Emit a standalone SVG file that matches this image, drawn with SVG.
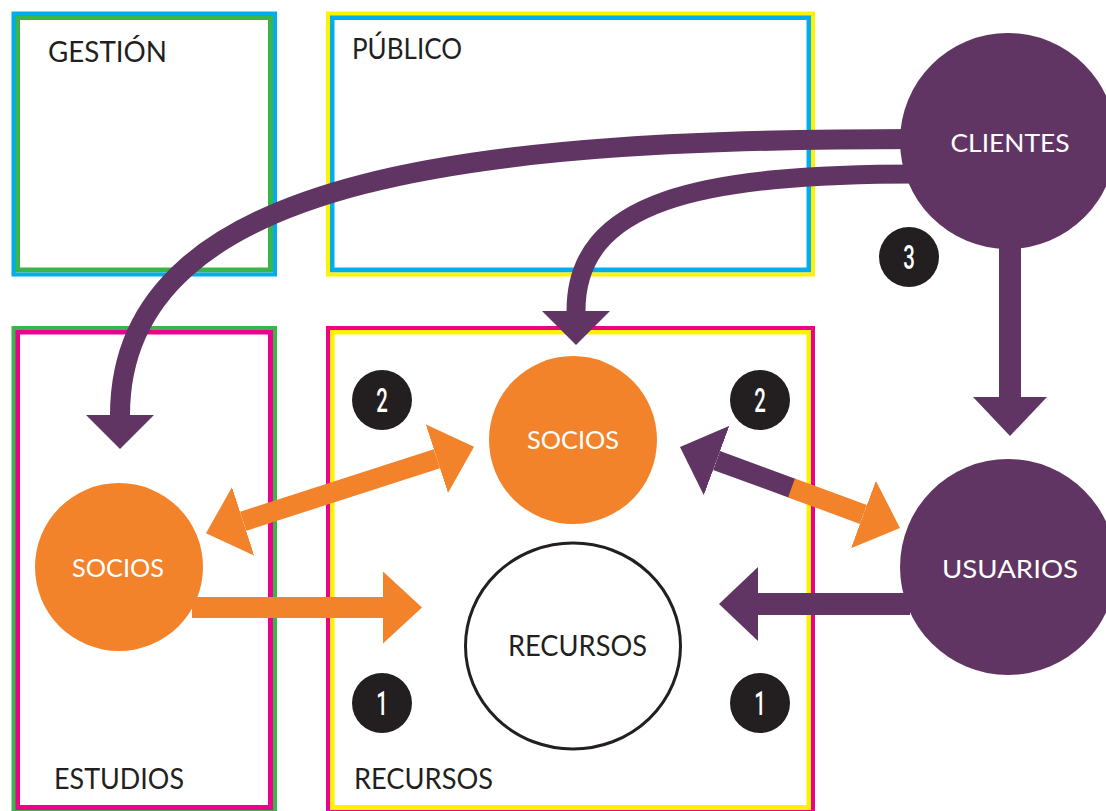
<svg xmlns="http://www.w3.org/2000/svg" width="1106" height="811" viewBox="0 0 1106 811">
  <style>
    .lbl { font-family: Lato, "Noto Sans", sans-serif; font-size: 28px; fill: #231F20; }
    .nlbl { font-family: Lato, "Noto Sans", sans-serif; font-size: 25px; fill: #FFFFFF; text-anchor: middle; }
    .badge circle { fill: #231F20; }
    .badge text { font-family: Roboto, "Liberation Sans", sans-serif; font-weight: 500; font-size: 34px; fill: #FFFFFF; text-anchor: middle; }
    .shaft { fill: none; stroke-linecap: butt; }
    .purple { stroke: #613563; }
    .orange { stroke: #F3832B; }
  </style>
  <defs>
    <marker id="head-purple" markerUnits="userSpaceOnUse" viewBox="0 -37 39 74" refX="0" refY="0" markerWidth="39" markerHeight="74" orient="auto-start-reverse">
      <path d="M0,-37 L39,0 L0,37 Z" fill="#613563"/>
    </marker>
    <marker id="head-purple-sm" markerUnits="userSpaceOnUse" viewBox="0 -34 34 68" refX="0" refY="0" markerWidth="34" markerHeight="68" orient="auto">
      <path d="M0,-34 L34,0 L0,34 Z" fill="#613563"/>
    </marker>
    <marker id="head-orange" markerUnits="userSpaceOnUse" viewBox="0 -36 39 72" refX="0" refY="0" markerWidth="39" markerHeight="72" orient="auto-start-reverse">
      <path d="M0,-36 L39,0 L0,36 Z" fill="#F3832B"/>
    </marker>
  </defs>

  <!-- area frames -->
  <g id="area-gestion">
    <rect x="17.5" y="17.5" width="253" height="252.5" fill="#FFFFFF" stroke="#39B54A" stroke-width="5"/>
    <rect x="13.5" y="13.5" width="261.5" height="261" fill="none" stroke="#00AEEF" stroke-width="4"/>
    <text class="lbl" x="48" y="62" textLength="119" lengthAdjust="spacingAndGlyphs">GESTIÓN</text>
  </g>
  <g id="area-publico">
    <rect x="332" y="17.5" width="477" height="252.5" fill="#FFFFFF" stroke="#00AEEF" stroke-width="5"/>
    <rect x="328" y="13.5" width="485" height="261" fill="none" stroke="#FFF200" stroke-width="4"/>
    <text class="lbl" x="352" y="59" textLength="110" lengthAdjust="spacingAndGlyphs">PÚBLICO</text>
  </g>
  <g id="area-estudios">
    <rect x="17.5" y="332" width="253" height="475.5" fill="#FFFFFF" stroke="#EC008C" stroke-width="5"/>
    <rect x="13.5" y="328" width="261.5" height="484" fill="none" stroke="#39B54A" stroke-width="4"/>
    <text class="lbl" x="54" y="789" textLength="130" lengthAdjust="spacingAndGlyphs">ESTUDIOS</text>
  </g>
  <g id="area-recursos">
    <rect x="332" y="332" width="477" height="475.5" fill="#FFFFFF" stroke="#FFF200" stroke-width="5"/>
    <rect x="328" y="328" width="485" height="484" fill="none" stroke="#EC008C" stroke-width="4"/>
    <text class="lbl" x="354" y="789" textLength="139" lengthAdjust="spacingAndGlyphs">RECURSOS</text>
  </g>

  <!-- connectors -->
  <g id="connectors">
    <path class="shaft purple" stroke-width="20" d="M920,139 C500,139 120,168 120,415" marker-end="url(#head-purple-sm)"/>
    <path class="shaft purple" stroke-width="19" d="M920,174 C700,174 576,200 576,311" marker-end="url(#head-purple-sm)"/>
    <path class="shaft purple" stroke-width="22" d="M1010,240 L1010,397" marker-end="url(#head-purple)"/>
    <path class="shaft purple" stroke-width="22" d="M910,604 L758,604" marker-end="url(#head-purple)"/>
    <path class="shaft orange" stroke-width="21" d="M192,607.5 L383,607.5" marker-end="url(#head-orange)"/>
    <path class="shaft orange" stroke-width="20" d="M243.1,521.3 L436.9,458.7" marker-start="url(#head-orange)" marker-end="url(#head-orange)"/>
    <path class="shaft purple" stroke-width="20" d="M792.5,488.4 L716.6,460.5" marker-end="url(#head-purple)"/>
    <path class="shaft orange" stroke-width="20" d="M791.5,488 L863.4,514.5" marker-end="url(#head-orange)"/>
  </g>

  <!-- nodes -->
  <g id="node-clientes">
    <circle cx="1008" cy="141" r="108" fill="#613563"/>
    <text class="nlbl" x="1010" y="152" font-size="26" textLength="119" lengthAdjust="spacingAndGlyphs">CLIENTES</text>
  </g>
  <g id="node-usuarios">
    <circle cx="1008" cy="567" r="108" fill="#613563"/>
    <text class="nlbl" x="1010" y="578" font-size="26" textLength="136" lengthAdjust="spacingAndGlyphs">USUARIOS</text>
  </g>
  <g id="node-socios-recursos">
    <circle cx="573" cy="440" r="84" fill="#F3832B"/>
    <text class="nlbl" x="573" y="449" textLength="92" lengthAdjust="spacingAndGlyphs">SOCIOS</text>
  </g>
  <g id="node-socios-estudios">
    <circle cx="119" cy="567" r="84" fill="#F3832B"/>
    <text class="nlbl" x="118" y="577" textLength="92" lengthAdjust="spacingAndGlyphs">SOCIOS</text>
  </g>
  <g id="node-recursos">
    <ellipse cx="573" cy="646" rx="107.5" ry="103" fill="#FFFFFF" stroke="#231F20" stroke-width="3"/>
    <text class="lbl" x="577.5" y="656" text-anchor="middle" textLength="139" lengthAdjust="spacingAndGlyphs">RECURSOS</text>
  </g>

  <!-- step badges -->
  <g id="badge-2-left" class="badge">
    <circle cx="382" cy="400" r="30"/>
    <text transform="translate(382 412) scale(0.6 1)">2</text>
  </g>
  <g id="badge-2-right" class="badge">
    <circle cx="760" cy="400" r="30"/>
    <text transform="translate(760 412) scale(0.6 1)">2</text>
  </g>
  <g id="badge-1-left" class="badge">
    <circle cx="382" cy="703" r="30"/>
    <text transform="translate(382 715) scale(0.6 1)">1</text>
  </g>
  <g id="badge-1-right" class="badge">
    <circle cx="760" cy="703" r="30"/>
    <text transform="translate(760 715) scale(0.6 1)">1</text>
  </g>
  <g id="badge-3" class="badge">
    <circle cx="909" cy="257" r="30"/>
    <text transform="translate(909 269) scale(0.6 1)">3</text>
  </g>
</svg>
